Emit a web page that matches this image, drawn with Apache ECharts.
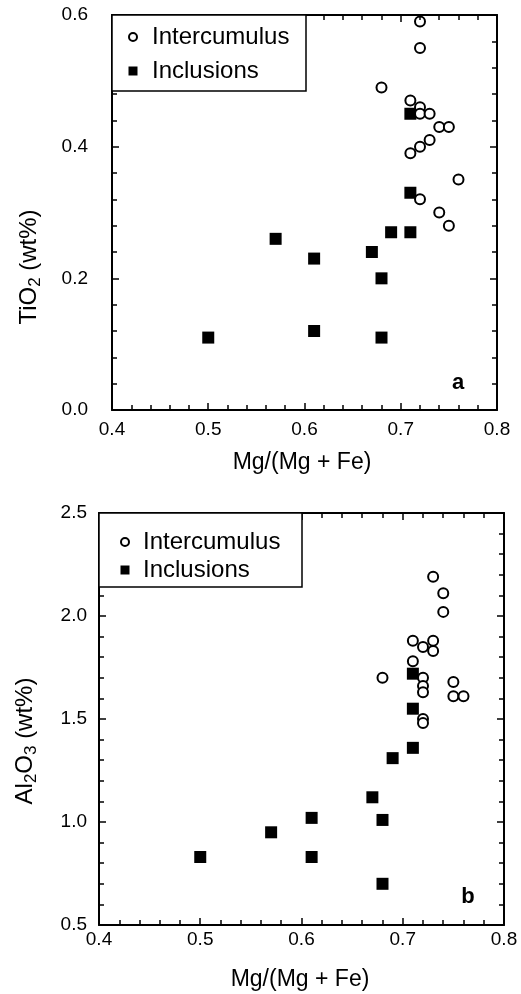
<!DOCTYPE html>
<html>
<head>
<meta charset="utf-8">
<script src="https://cdn.jsdelivr.net/npm/echarts@6/dist/echarts.min.js"></script>
<style>
  html, body { margin: 0; padding: 0; background: #fff; }
  #chart { width: 521px; height: 994px; }
</style>
</head>
<body>
<div id="chart"></div>
<script>
// panel a: TiO2
const interXA = [0.72, 0.72, 0.68, 0.71, 0.72, 0.72, 0.73, 0.74, 0.75, 0.73, 0.72, 0.71, 0.76, 0.72, 0.74, 0.75]
const interTi = [0.59, 0.55, 0.49, 0.47, 0.46, 0.45, 0.45, 0.43, 0.43, 0.41, 0.40, 0.39, 0.35, 0.32, 0.30, 0.28]
const inclXA = [0.50, 0.57, 0.61, 0.61, 0.67, 0.68, 0.68, 0.69, 0.71, 0.71, 0.71]
const inclTi = [0.11, 0.26, 0.23, 0.12, 0.24, 0.20, 0.11, 0.27, 0.27, 0.33, 0.45]

// panel b: Al2O3
const interXB = [0.73, 0.74, 0.74, 0.71, 0.73, 0.72, 0.73, 0.71, 0.68, 0.72, 0.72, 0.72, 0.75, 0.75, 0.76, 0.72, 0.72]
const interAl = [2.19, 2.11, 2.02, 1.88, 1.88, 1.85, 1.83, 1.78, 1.70, 1.70, 1.66, 1.63, 1.68, 1.61, 1.61, 1.50, 1.48]
const inclXB = [0.50, 0.57, 0.61, 0.61, 0.67, 0.68, 0.68, 0.69, 0.71, 0.71, 0.71]
const inclAl = [0.83, 0.95, 1.02, 0.83, 1.12, 1.01, 0.70, 1.31, 1.36, 1.55, 1.72]

// tick settings
const xTicks = { min: 0.4, max: 0.8, step: 0.1 }
const yTicksA = { min: 0.0, max: 0.6, step: 0.2 }
const yTicksB = { min: 0.5, max: 2.5, step: 0.5 }

const seriesNames = ['Intercumulus', 'Inclusions']

const FONT = '"Liberation Sans", Arial, Helvetica, sans-serif'

function pairs(xs, ys) {
  return xs.map((x, i) => [x, ys[i]])
}

// one side of the frame; labels only on bottom / left
function frameAxis(gridIndex, pos, t, showLabel, margin) {
  return {
    type: 'value',
    gridIndex: gridIndex,
    position: pos,
    z: 5,
    min: t.min,
    max: t.max,
    interval: t.step,
    axisLine: { show: true, onZero: false, lineStyle: { color: '#000', width: 2 } },
    axisTick: { show: true, inside: true, length: 7, lineStyle: { color: '#000', width: 1.5 } },
    minorTick: { show: true, splitNumber: 5, length: 5, lineStyle: { color: '#000', width: 1.5 } },
    splitLine: { show: false },
    minorSplitLine: { show: false },
    axisLabel: {
      show: showLabel,
      margin: margin,
      color: '#000',
      fontSize: 19,
      fontFamily: FONT,
      formatter: (v) => v.toFixed(1)
    }
  }
}

// legend box drawn as a small graphic group (sits over the frame corner)
function legendBox(left, top, w, h, iconX, textX, rowY) {
  return {
    type: 'group',
    z: 100,
    children: [
      {
        type: 'rect', z: 100,
        shape: { x: left, y: top, width: w, height: h },
        style: { fill: '#fff', stroke: '#000', lineWidth: 1.5 }
      },
      {
        type: 'circle', z: 101,
        shape: { cx: iconX, cy: rowY[0], r: 4 },
        style: { fill: '#fff', stroke: '#000', lineWidth: 2 }
      },
      {
        type: 'rect', z: 101,
        shape: { x: iconX - 4.5, y: rowY[1] - 4.5, width: 9, height: 9 },
        style: { fill: '#000' }
      },
      {
        type: 'text', z: 101, x: textX, y: rowY[0],
        style: { text: seriesNames[0], fill: '#000', font: '24px ' + FONT, align: 'left', verticalAlign: 'middle' }
      },
      {
        type: 'text', z: 101, x: textX, y: rowY[1],
        style: { text: seriesNames[1], fill: '#000', font: '24px ' + FONT, align: 'left', verticalAlign: 'middle' }
      }
    ]
  }
}

const richTitle = {
  a: { fontSize: 24, fontFamily: FONT, color: '#000', lineHeight: 30 },
  s: { fontSize: 17, fontFamily: FONT, color: '#000', verticalAlign: 'bottom', lineHeight: 30 }
}

function plainText(x, y, text, font) {
  return {
    type: 'text', x: x, y: y,
    style: { text: text, fill: '#000', font: font, align: 'center', verticalAlign: 'middle' }
  }
}

const chart = echarts.init(document.getElementById('chart'))

const option = {
  backgroundColor: '#fff',
  animation: false,
  grid: [
    { left: 112, right: 24, top: 15, bottom: 584 },
    { left: 99, right: 17, top: 513, bottom: 69 }
  ],
  xAxis: [
    frameAxis(0, 'bottom', xTicks, true, 10),
    frameAxis(0, 'top', xTicks, false, 8),
    frameAxis(1, 'bottom', xTicks, true, 5),
    frameAxis(1, 'top', xTicks, false, 8)
  ],
  yAxis: [
    frameAxis(0, 'left', yTicksA, true, 24),
    frameAxis(0, 'right', yTicksA, false, 8),
    frameAxis(1, 'left', yTicksB, true, 12),
    frameAxis(1, 'right', yTicksB, false, 8)
  ],
  series: [
    {
      name: seriesNames[1], type: 'scatter', xAxisIndex: 0, yAxisIndex: 0,
      symbol: 'rect', symbolSize: 12,
      itemStyle: { color: '#000', opacity: 1 },
      data: pairs(inclXA, inclTi)
    },
    {
      name: seriesNames[0], type: 'scatter', xAxisIndex: 0, yAxisIndex: 0,
      symbol: 'emptyCircle', symbolSize: 10,
      itemStyle: { color: '#000', borderWidth: 2, opacity: 1 },
      data: pairs(interXA, interTi)
    },
    {
      name: seriesNames[1], type: 'scatter', xAxisIndex: 2, yAxisIndex: 2,
      symbol: 'rect', symbolSize: 12,
      itemStyle: { color: '#000', opacity: 1 },
      data: pairs(inclXB, inclAl)
    },
    {
      name: seriesNames[0], type: 'scatter', xAxisIndex: 2, yAxisIndex: 2,
      symbol: 'emptyCircle', symbolSize: 10,
      itemStyle: { color: '#000', borderWidth: 2, opacity: 1 },
      data: pairs(interXB, interAl)
    }
  ],
  graphic: [
    // legends, top edge on the frame's top edge
    legendBox(112, 15, 194, 76, 133, 152, [37, 71]),
    legendBox(99, 513, 203, 74, 125, 143, [542, 570]),
    // y axis titles, with subscripts
    {
      type: 'text', x: 29, y: 267, rotation: Math.PI / 2,
      style: { text: '{a|TiO}{s|2}{a| (wt%)}', rich: richTitle, align: 'center', verticalAlign: 'middle' }
    },
    {
      type: 'text', x: 25, y: 741, rotation: Math.PI / 2,
      style: { text: '{a|Al}{s|2}{a|O}{s|3}{a| (wt%)}', rich: richTitle, align: 'center', verticalAlign: 'middle' }
    },
    // x axis titles
    plainText(302, 463, 'Mg/(Mg + Fe)', '23px ' + FONT),
    plainText(300, 980, 'Mg/(Mg + Fe)', '23px ' + FONT),
    // panel letters
    plainText(458, 383, 'a', 'bold 22px ' + FONT),
    plainText(468, 897, 'b', 'bold 22px ' + FONT)
  ]
}

chart.setOption(option)
</script>
</body>
</html>
